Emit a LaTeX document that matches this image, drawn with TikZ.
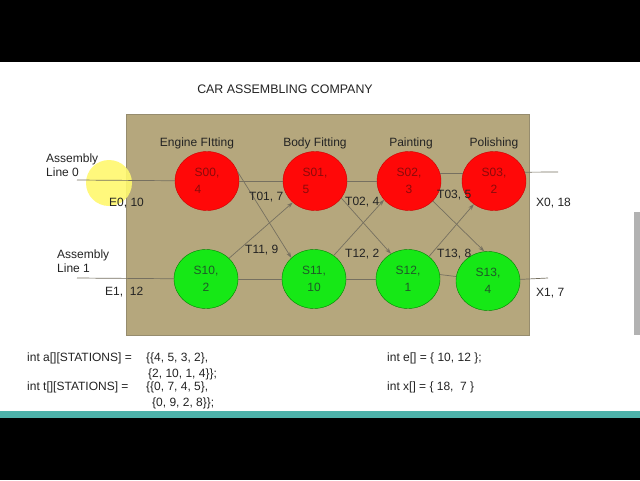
\documentclass[tikz,border=0pt]{standalone}
\usepackage{fontspec}
\setmainfont{Liberation Sans}
\usetikzlibrary{shapes.geometric,arrows.meta}
\definecolor{boxtan}{RGB}{181,167,125}
\definecolor{boxedge}{RGB}{150,140,110}
\definecolor{linegray}{RGB}{118,112,96}
\definecolor{txt}{RGB}{35,35,35}
\definecolor{stred}{RGB}{255,8,8}
\definecolor{stgreen}{RGB}{22,232,22}
\definecolor{redtxt}{RGB}{140,10,10}
\definecolor{greentxt}{RGB}{30,90,40}
\definecolor{bandteal}{RGB}{78,178,170}
\definecolor{hilite}{RGB}{255,248,110}
\begin{document}
\begin{tikzpicture}[x=1pt,y=-1pt,
  every node/.style={font=\fontsize{12}{14}\selectfont, text=txt, inner sep=0pt},
  station/.style={ellipse, minimum width=64pt, minimum height=59pt, inner sep=0pt, font=\fontsize{12}{17}\selectfont},
  redst/.style={station, fill=stred, draw=red!80!black, line width=0.4pt, text=redtxt},
  greenst/.style={station, fill=stgreen, draw=green!50!black, line width=0.4pt, text=greentxt},
  conn/.style={draw=linegray, line width=0.7pt},
  arr/.style={conn, -{Stealth[length=6pt,width=4pt]}},
  lbl/.style={anchor=west, align=left}
]
\useasboundingbox (0,0) rectangle (640,480);
\fill[black] (0,0) rectangle (640,62);
\fill[white] (0,62) rectangle (640,411);
\fill[bandteal] (0,411) rectangle (640,418);
\fill[black] (0,418) rectangle (640,480);
% right edge artifact
\fill[gray!60] (634,212) rectangle (640,335);

\node[font=\fontsize{12.4}{14}\selectfont] (title) at (285,89) {CAR ASSEMBLING COMPANY};

\fill[boxtan, draw=boxedge, line width=0.5pt] (126,114) rectangle (529,335);

% cursor highlight
\fill[hilite, opacity=0.9] (109,183) circle (23);

\node (h0) at (197,143) {Engine FItting};
\node (h1) at (315,143) {Body Fitting};
\node (h2) at (411,143) {Painting};
\node (h3) at (494,143) {Polishing};

\node[redst, align=left] (s00) at (207,181) {S00,\\4};
\node[redst, align=left] (s01) at (315,181) {S01,\\5};
\node[redst, align=center] (s02) at (409,181) {S02,\\3};
\node[redst, align=center] (s03) at (494,181) {S03,\\2};
\node[greenst, align=center] (s10) at (206,279) {S10,\\2};
\node[greenst, align=center] (s11) at (314,279) {S11,\\10};
\node[greenst, align=center] (s12) at (408,279) {S12,\\1};
\node[greenst, align=center] (s13) at (488,281) {S13,\\4};

\coordinate (in0) at (77,180);
\coordinate (in1) at (77,278);
\coordinate (out0) at (558,172);
\coordinate (out1) at (548,278);

% straight lines
\draw[conn] (in0) -- (s00);
\draw[conn] (s00) -- (s01);
\draw[conn] (s01) -- (s02);
\draw[conn] (s02.14) -- (s03.166);
\draw[conn] (s03.16) -- (out0);
\draw[conn] (in1) -- (s10);
\draw[conn] (s10) -- (s11);
\draw[conn] (s11) -- (s12);
\draw[conn] (s12.8) -- (s13.172);
\draw[conn] (s13) -- (out1);

% transfer arrows
\draw[arr] (s00.17) -- (s11.137);
\draw[arr] (s10.42) -- (s01.224);
\draw[arr] (s01.-33) -- (s12.124);
\draw[arr] (s11.50) -- (s02.217);
\draw[arr] (s02.-40) -- (s13.97);
\draw[arr] (s12.47) -- (s03.229);

% labels
\node[lbl] (al0) at (46,165) {Assembly\\Line 0};
\node[lbl] (al1) at (57,261) {Assembly\\Line 1};
\node[lbl] (e0) at (109,203) {E0, 10};
\node[lbl] (e1) at (105,292) {E1,\ \ 12};
\node[lbl] (t01) at (249,197) {T01, 7};
\node[lbl] (t11) at (245,250) {T11, 9};
\node[lbl] (t02) at (345,202) {T02, 4};
\node[lbl] (t12) at (345,254) {T12, 2};
\node[lbl] (t03) at (437,195) {T03, 5};
\node[lbl] (t13) at (437,254) {T13, 8};
\node[lbl] (x0) at (536,203) {X0, 18};
\node[lbl] (x1) at (536,293) {X1, 7};

% code
\node[lbl] (ca) at (27,358) {int a[][STATIONS] =};
\node[lbl] (ca1) at (146,358) {\{\{4, 5, 3, 2\},};
\node[lbl] (ca2) at (148,374) {\{2, 10, 1, 4\}\};};
\node[lbl] (ct) at (27,387) {int t[][STATIONS] =};
\node[lbl] (ct1) at (146,387) {\{\{0, 7, 4, 5\},};
\node[lbl] (ct2) at (152,403) {\{0, 9, 2, 8\}\};};
\node[lbl] (ce) at (387,358) {int e[] = \{ 10, 12 \};};
\node[lbl] (cx) at (387,387) {int x[] = \{ 18,\ \ 7 \}};
\end{tikzpicture}
\end{document}
